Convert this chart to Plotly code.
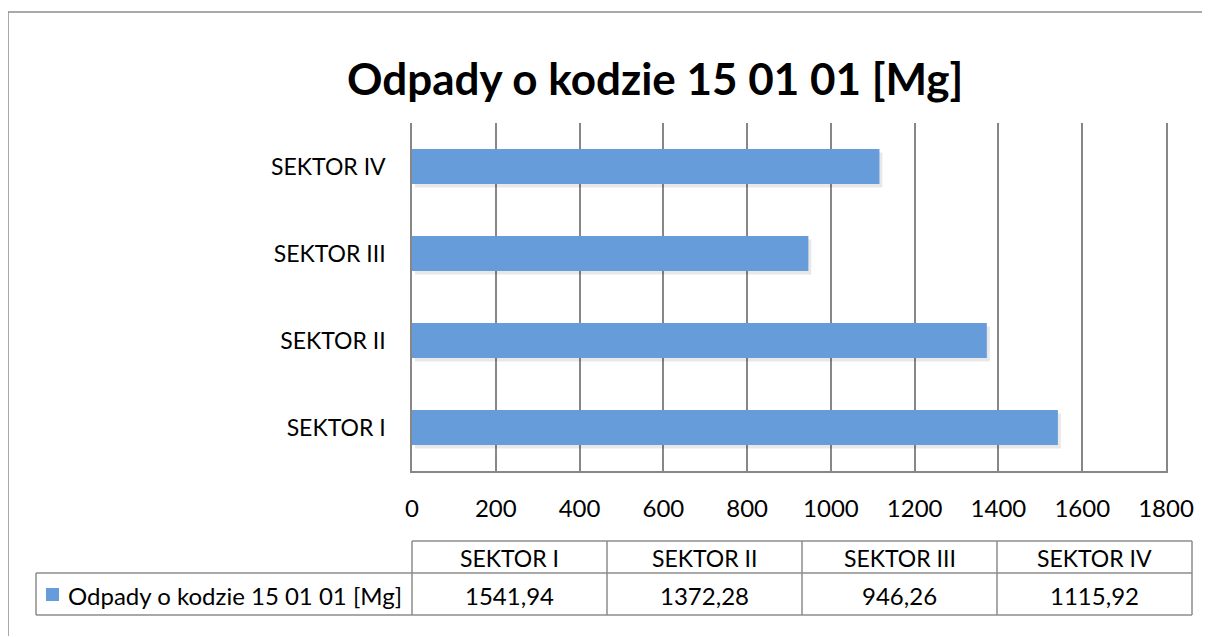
import plotly.graph_objects as go

categories = ["SEKTOR I", "SEKTOR II", "SEKTOR III", "SEKTOR IV"]
values = [1541.94, 1372.28, 946.26, 1115.92]
series_name = "Odpady o kodzie 15 01 01 [Mg]"
title_text = "Odpady o kodzie 15 01 01 [Mg]"
x_ticks = [0, 200, 400, 600, 800, 1000, 1200, 1400, 1600, 1800]

# page has an 8px body margin; work in page pixels and convert
OFF = 8
W, H = 1210 - OFF, 637 - OFF
L, R, T, B = 412, 1166, 123, 471  # plot area in page pixels
FONT = "Lato"
BAR = "#679CDB"
GRID = "#878787"
TXT = "#000000"


def px(x):
    return (x - L) / (R - L)


def py(y):
    return (B - y) / (B - T)


fig = go.Figure()
cat_px = (B - T) / len(categories)
fig.add_trace(go.Bar(
    y=categories, x=values, orientation="h", base=7,
    width=0.4, offset=-0.2 - 3.5 / cat_px,
    marker=dict(color="rgba(0,0,0,0.09)", line=dict(width=0)),
    showlegend=False, hoverinfo="skip",
))
fig.add_trace(go.Bar(
    y=categories, x=values, orientation="h", name=series_name,
    width=0.4, offset=-0.2,
    marker=dict(color=BAR, line=dict(width=0)), showlegend=False,
))

shapes = []
ann = []

# outer border (top and left edges visible in the frame)
bc = dict(color="#8c8c8c", width=1.5)
shapes.append(dict(type="line", xref="paper", yref="paper",
                   x0=px(8), x1=px(1209), y0=py(12), y1=py(12), line=bc, layer="below"))
shapes.append(dict(type="line", xref="paper", yref="paper",
                   x0=px(8), x1=px(8), y0=py(12), y1=py(636), line=bc, layer="below"))

# data table
tx0, tx1 = 412, 1192
ty0, ty1, ty2 = 541, 573, 615
lx0 = 36
n = len(categories)
cw = (tx1 - tx0) / n
lc = dict(color="#8c8c8c", width=1.5)
shapes.append(dict(type="line", xref="paper", yref="paper", x0=px(tx0), x1=px(tx1), y0=py(ty0), y1=py(ty0), line=lc))
shapes.append(dict(type="line", xref="paper", yref="paper", x0=px(lx0), x1=px(tx1), y0=py(ty1), y1=py(ty1), line=lc))
shapes.append(dict(type="line", xref="paper", yref="paper", x0=px(lx0), x1=px(tx1), y0=py(ty2), y1=py(ty2), line=lc))
shapes.append(dict(type="line", xref="paper", yref="paper", x0=px(lx0), x1=px(lx0), y0=py(ty1), y1=py(ty2), line=lc))
for i in range(n + 1):
    xx = tx0 + i * cw
    shapes.append(dict(type="line", xref="paper", yref="paper", x0=px(xx), x1=px(xx), y0=py(ty0), y1=py(ty2), line=lc))

for i, (c, v) in enumerate(zip(categories, values)):
    xc = tx0 + (i + 0.5) * cw
    ann.append(dict(xref="paper", yref="paper", x=px(xc), y=py((ty0 + ty1) / 2 + 1), text=c,
                    showarrow=False, xanchor="center", yanchor="middle",
                    font=dict(family=FONT, size=23, color=TXT)))
    ann.append(dict(xref="paper", yref="paper", x=px(xc), y=py((ty1 + ty2) / 2 + 1),
                    text=f"{v:.2f}".replace(".", ","),
                    showarrow=False, xanchor="center", yanchor="middle",
                    font=dict(family=FONT, size=24, color=TXT)))

# legend key in table
shapes.append(dict(type="rect", xref="paper", yref="paper", x0=px(46), x1=px(59),
                   y0=py(601), y1=py(588), fillcolor=BAR, line=dict(width=0)))
ann.append(dict(xref="paper", yref="paper", x=px(66), y=py((ty1 + ty2) / 2 + 1), text=series_name,
                showarrow=False, xanchor="left", yanchor="middle",
                font=dict(family=FONT, size=24, color=TXT)))

# title
ann.append(dict(xref="paper", yref="paper", x=px(655), y=py(78), text=f"<b>{title_text}</b>",
                showarrow=False, xanchor="center", yanchor="middle",
                font=dict(family=FONT, size=44, color=TXT)))

fig.update_layout(
    width=W, height=H,
    margin=dict(l=L - OFF, r=W - (R - OFF), t=T - OFF, b=H - (B - OFF), pad=0),
    paper_bgcolor="white", plot_bgcolor="white",
    barmode="overlay",
    shapes=shapes, annotations=ann,
    font=dict(family=FONT, size=23, color=TXT),
)
fig.update_xaxes(range=[0, 1800], tickvals=x_ticks, ticktext=[str(t) for t in x_ticks],
                 showgrid=True, gridcolor=GRID, gridwidth=1.5,
                 zeroline=False, showline=True, linecolor=GRID, linewidth=2,
                 ticks="", ticklabelstandoff=15, tickfont=dict(family=FONT, size=24, color=TXT),
                 fixedrange=True)
fig.update_yaxes(categoryorder="array", categoryarray=categories,
                 showgrid=False, zeroline=False, showline=True, mirror=True,
                 linecolor=GRID, linewidth=1.5,
                 ticks="", ticklabelstandoff=20, tickfont=dict(family=FONT, size=23, color=TXT),
                 fixedrange=True)

fig.write_html("out.html", config={"displayModeBar": False})
